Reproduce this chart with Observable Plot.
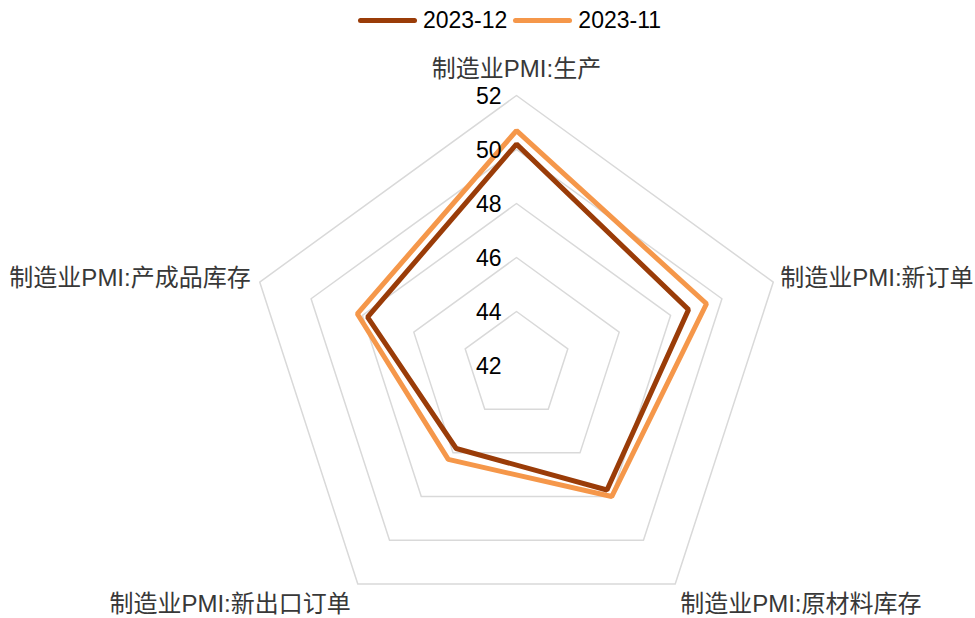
<!DOCTYPE html>
<html>
<head>
<meta charset="utf-8">
<script src="https://cdn.jsdelivr.net/npm/d3@7"></script>
<script src="https://cdn.jsdelivr.net/npm/@observablehq/plot@0.6"></script>
<style>
  html, body { margin: 0; padding: 0; background: #fff; }
  body { width: 975px; height: 618px; overflow: hidden; font-family: "Liberation Sans", Arial, "Noto Sans CJK SC", sans-serif; }
  #legend { height: 40px; display: flex; justify-content: center; align-items: center; padding-left: 44px; box-sizing: border-box; }
  .item { display: flex; align-items: center; margin: 0 3px; }
  .swatch { width: 59px; height: 5px; border-radius: 3px; margin-right: 6px; }
  .label { font-size: 23px; color: #000; }
</style>
</head>
<body>
<div id="legend"></div>
<div id="chart"></div>
<script>
// ---- data ----
const categories = ["制造业PMI:生产", "制造业PMI:新订单", "制造业PMI:原材料库存", "制造业PMI:新出口订单", "制造业PMI:产成品库存"];
const series = ["2023-12", "2023-11"];
const dec2023 = [50.2, 48.7, 47.7, 45.8, 47.8];
const nov2023 = [50.7, 49.4, 48.0, 46.3, 48.2];
const tickValues = [42, 44, 46, 48, 50, 52];

// ---- styling ----
const colors = {"2023-12": "#9A3C08", "2023-11": "#F5974A"};
const minV = 42, maxV = 52;
const font = '"Liberation Sans", Arial, "Noto Sans CJK SC", sans-serif';

// polar -> cartesian in data units (radius measured from minV)
const n = categories.length;
function pt(i, v) {
  const a = (i * 2 * Math.PI) / n;
  const r = v - minV;
  return {x: r * Math.sin(a), y: r * Math.cos(a)};
}

const values = {"2023-12": dec2023, "2023-11": nov2023};
const seriesPts = series.flatMap(s => values[s].map((v, i) => ({series: s, i, value: v, ...pt(i, v)})));
const gridPts = tickValues.filter(t => t > minV).flatMap(t => categories.map((c, i) => ({ring: t, ...pt(i, t)})));
const tickPts = tickValues.map(t => ({t, ...pt(0, t)}));
const labelPts = categories.map((c, i) => ({label: c, i, ...pt(i, maxV)}));

// legend
const legend = document.getElementById("legend");
for (const s of series) {
  const it = document.createElement("div");
  it.className = "item";
  it.innerHTML = `<div class="swatch" style="background:${colors[s]}"></div><span class="label">${s}</span>`;
  legend.appendChild(it);
}

const cx = 516, cy = 325, k = 27; // pixels
const R = maxV - minV;

function catLabel(i, anchor, dx, dy) {
  return Plot.text(labelPts.filter(d => d.i === i), {
    x: "x", y: "y", text: "label", textAnchor: anchor, dx, dy,
    fontSize: 24, fill: "#383838", lineAnchor: "middle"
  });
}

const chart = Plot.plot({
  width: 975,
  height: 578,
  margin: 0,
  x: {type: "linear", domain: [-R, R], range: [cx - R * k, cx + R * k], axis: null},
  y: {type: "linear", domain: [-R, R], range: [cy + R * k, cy - R * k], axis: null},
  style: {fontFamily: font, background: "#fff"},
  marks: [
    Plot.line(gridPts, {x: "x", y: "y", z: "ring", curve: "linear-closed", stroke: "#d9d9d9", strokeWidth: 1.5}),
    Plot.line(seriesPts.filter(d => d.series === "2023-11"), {x: "x", y: "y", curve: "linear-closed", stroke: colors["2023-11"], strokeWidth: 5, strokeLinejoin: "miter"}),
    Plot.line(seriesPts.filter(d => d.series === "2023-12"), {x: "x", y: "y", curve: "linear-closed", stroke: colors["2023-12"], strokeWidth: 5, strokeLinejoin: "miter"}),
    Plot.text(tickPts, {x: "x", y: "y", text: d => String(d.t), textAnchor: "end", dx: -15, dy: 1, fontSize: 23, fill: "#000", lineAnchor: "middle"}),
    catLabel(0, "middle", 0, -26),
    catLabel(1, "start", 7, -4),
    catLabel(2, "start", 5, 20),
    catLabel(3, "end", -7, 20),
    catLabel(4, "end", -9, -4)
  ]
});
document.getElementById("chart").appendChild(chart);
</script>
</body>
</html>
